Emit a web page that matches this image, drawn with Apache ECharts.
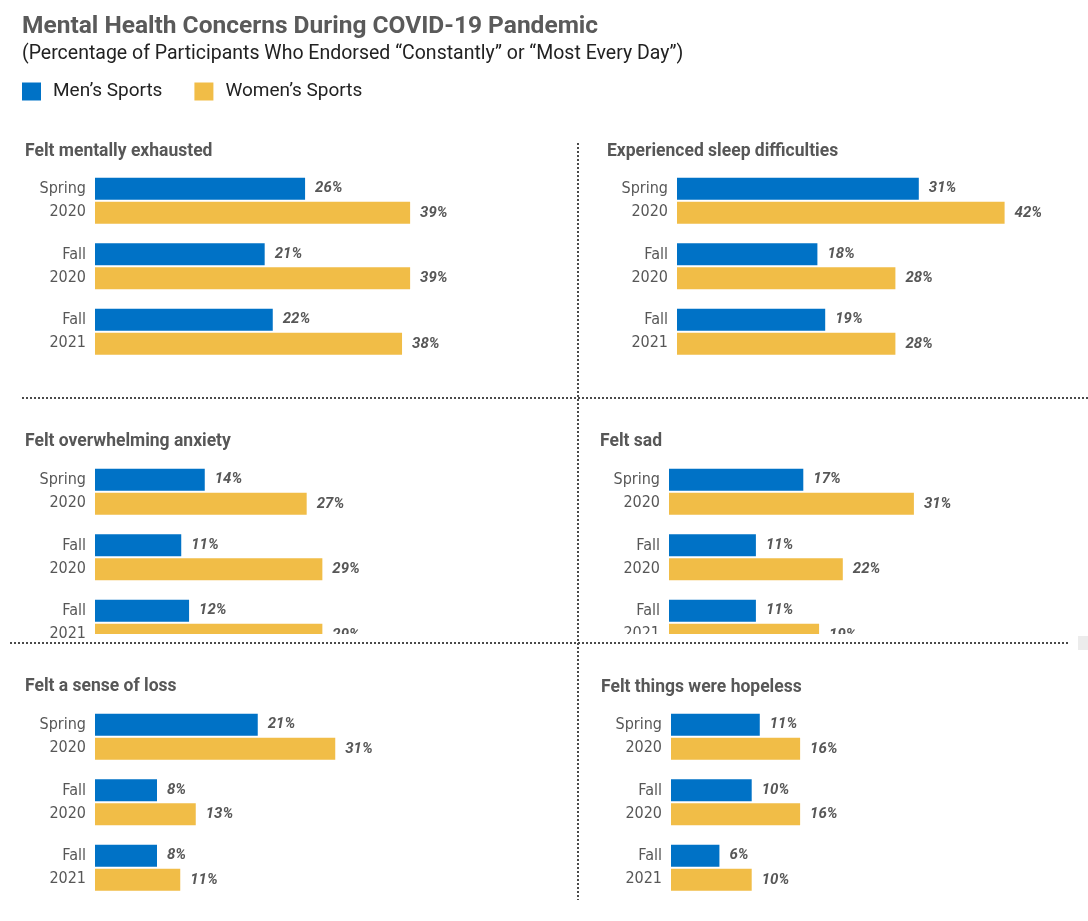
<!DOCTYPE html>
<html>
<head>
<meta charset="utf-8">
<script src="https://cdn.jsdelivr.net/npm/echarts@6/dist/echarts.min.js"></script>
<style>
  html, body { margin: 0; padding: 0; background: #fff; }
  #chart { width: 1088px; height: 921px; }
</style>
</head>
<body>
<div id="chart"></div>
<script>
// data
let seasons = ['Spring\n2020', 'Fall\n2020', 'Fall\n2021'];
let panelTitles = [
    'Felt mentally exhausted',
    'Experienced sleep difficulties',
    'Felt overwhelming anxiety',
    'Felt sad',
    'Felt a sense of loss',
    'Felt things were hopeless'
];
let mensSports = [
    [26, 21, 22],
    [31, 18, 19],
    [14, 11, 12],
    [17, 11, 11],
    [21, 8, 8],
    [11, 10, 6]
];
let womensSports = [
    [39, 39, 38],
    [42, 28, 28],
    [27, 29, 29],
    [31, 22, 19],
    [31, 13, 11],
    [16, 16, 10]
];

// layout of the six panels (bar start x, grid top, pixels per percent, title x/y)
let panels = [
    {left: 95,  top: 168, ppx: 8.08, tx: 25,  ty: 152},
    {left: 677, top: 168, ppx: 7.80, tx: 607, ty: 152},
    {left: 95,  top: 459, ppx: 7.84, tx: 25,  ty: 442},
    {left: 669, top: 459, ppx: 7.90, tx: 600, ty: 442},
    {left: 95,  top: 704, ppx: 7.75, tx: 25,  ty: 687},
    {left: 671, top: 704, ppx: 8.07, tx: 601, ty: 688}
];
let BLUE = '#0072c6';
let GOLD = '#f1bd47';
let GRAY = '#575757';
let XMAX = 50;

let grids = [], xAxes = [], yAxes = [], series = [];
let graphics = [];

panels.forEach(function (p, i) {
    grids.push({left: p.left, top: p.top, width: XMAX * p.ppx, height: 196.5});
    xAxes.push({type: 'value', gridIndex: i, min: 0, max: XMAX, show: false});
    yAxes.push({
        type: 'category', gridIndex: i, data: seasons, inverse: true,
        axisLine: {show: false}, axisTick: {show: false},
        axisLabel: {
            margin: 9, color: GRAY, fontSize: 16, lineHeight: 23, fontWeight: 500,
            fontFamily: 'Liberation Sans Narrow, DejaVu Sans Condensed, Roboto, sans-serif'
        }
    });
    let label = {
        show: true, position: 'right', distance: 10,
        formatter: '{c}%', color: GRAY, fontSize: 15,
        fontStyle: 'italic', fontWeight: 'bold', fontFamily: 'Roboto, sans-serif'
    };
    series.push({
        name: 'Men\u2019s Sports', type: 'bar', xAxisIndex: i, yAxisIndex: i,
        data: mensSports[i], barWidth: 22, barGap: '10%',
        itemStyle: {color: BLUE}, label: label, silent: true
    });
    series.push({
        name: 'Women\u2019s Sports', type: 'bar', xAxisIndex: i, yAxisIndex: i,
        data: womensSports[i], barWidth: 22, barGap: '10%',
        itemStyle: {color: GOLD}, label: label, silent: true
    });
    graphics.push({
        type: 'text', x: p.tx, y: p.ty, z: 50,
        style: {
            text: panelTitles[i], fill: GRAY, verticalAlign: 'middle',
            font: 'bold 17.5px Roboto, sans-serif'
        }
    });
});

// middle row is cut off at the bottom
graphics.push({type: 'rect', z: 90, shape: {x: 90, y: 634, width: 990, height: 16}, style: {fill: '#fff'}});
// dotted dividers
let dotted = {stroke: '#4a4a4a', lineWidth: 2, lineDash: [2, 2]};
graphics.push({type: 'line', z: 95, shape: {x1: 578, y1: 143, x2: 578, y2: 900}, style: dotted});
graphics.push({type: 'line', z: 95, shape: {x1: 22, y1: 398, x2: 1088, y2: 398}, style: dotted});
graphics.push({type: 'line', z: 95, shape: {x1: 10, y1: 643, x2: 1070, y2: 643}, style: dotted});
graphics.push({type: 'rect', z: 95, shape: {x: 1078, y: 636, width: 10, height: 14}, style: {fill: '#ececec'}});

// headings
graphics.push({
    type: 'text', x: 22, y: 27, z: 50,
    style: {text: 'Mental Health Concerns During COVID-19 Pandemic', fill: '#5a5a5a',
        verticalAlign: 'middle', font: 'bold 24.5px Roboto, sans-serif'}
});
graphics.push({
    type: 'text', x: 22, y: 54, z: 50,
    style: {text: '(Percentage of Participants Who Endorsed \u201cConstantly\u201d or \u201cMost Every Day\u201d)',
        fill: '#222', verticalAlign: 'middle', font: '19.5px Roboto, sans-serif'}
});

let chart = echarts.init(document.getElementById('chart'));
chart.setOption({
    animation: false,
    color: [BLUE, GOLD],
    legend: {
        left: 22, top: 82, padding: 0, icon: 'rect', itemWidth: 19, itemHeight: 18, itemGap: 32,
        selectedMode: false,
        data: ['Men\u2019s Sports', 'Women\u2019s Sports'],
        textStyle: {color: '#222', fontSize: 19, fontFamily: 'Roboto, sans-serif', padding: [0, 0, 0, 7]}
    },
    grid: grids,
    xAxis: xAxes,
    yAxis: yAxes,
    series: series,
    graphic: graphics
});
</script>
</body>
</html>
